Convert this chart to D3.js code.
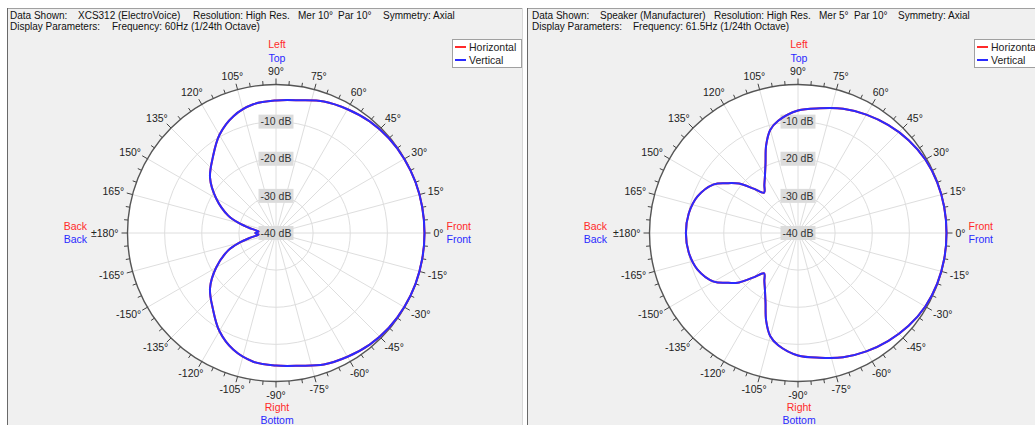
<!DOCTYPE html>
<html>
<head>
<meta charset="utf-8">
<script src="https://cdn.jsdelivr.net/npm/d3@7"></script>
<style>
body { margin: 0; background: #fff; }
svg { display: block; font-family: "Liberation Sans", Arial, sans-serif; }
</style>
</head>
<body>
<svg id="chart" width="1035" height="425"></svg>
<script>
// angles in degrees, 0 = front, +90 = top/left; levels in dB (0 = outer ring)
var angles1 = [-180, -175, -170, -165, -160, -150, -140, -130, -120, -110, -100, -90, -80, -70, -60, -50, -40, -30, -20, -10,
	0, 10, 20, 30, 40, 50, 60, 70, 80, 90, 100, 110, 120, 130, 140, 150, 160, 165, 170, 175];
var ver1 = [-34.4, -35.3, -33.2, -29.7, -26.3, -21.4, -16.8, -13.5, -9.5, -6.5, -4.8, -4.3, -3.7, -2.3, -1.5, -0.75, -0.3, -0.1, 0, 0,
	0, 0, 0, -0.1, -0.3, -0.75, -1.5, -2.3, -3.7, -4.3, -4.8, -6.5, -9.5, -13.5, -16.8, -21.4, -26.3, -29.7, -33.2, -35.3];
var hor1 = ver1.slice(); // axial symmetry: horizontal sits under vertical

var angles2 = [-180, -170, -160, -150, -145, -140, -135, -130, -125, -120, -115, -110, -105, -100, -90, -80, -70, -60, -50, -40, -30, -20, -10,
	0, 10, 20, 30, 40, 50, 60, 70, 80, 90, 100, 105, 110, 115, 120, 125, 130, 135, 140, 145, 150, 160, 170];
var ver2 = [-9.8, -10.1, -11.2, -13.8, -16.6, -19.3, -23.1, -25.8, -24.2, -22.2, -19.3, -14.9, -11.2, -9.3, -7.0, -5.9, -4.4, -3.2, -2.1, -1.1, -0.4, -0.1, 0,
	0, 0, -0.1, -0.4, -1.1, -2.1, -3.2, -4.4, -5.9, -7.0, -9.3, -11.2, -14.9, -19.3, -22.2, -24.2, -25.8, -23.1, -19.3, -16.6, -13.8, -11.2, -10.1];
var hor2 = ver2.slice();

var angleTicks = [180, 165, 150, 135, 120, 105, 90, 75, 60, 45, 30, 15, 0, -15, -30, -45, -60, -75, -90, -105, -120, -135, -150, -165];
var dbTicks = [-10, -20, -30, -40];
var seriesNames = ["Horizontal", "Vertical"];

var head1 = [["Data Shown:", "XCS312  (ElectroVoice)", "Resolution: High Res.", "Mer 10°", "Par 10°", "Symmetry: Axial"],
	["Display Parameters:", "Frequency: 60Hz (1/24th Octave)"]];
var head2 = [["Data Shown:", "Speaker (Manufacturer)", "Resolution: High Res.", "Mer 5°", "Par 10°", "Symmetry: Axial"],
	["Display Parameters:", "Frequency: 61.5Hz (1/24th Octave)"]];

var RED = "#ff2a2a", BLUE = "#2a2aff";
var R = 148.5, cy = 233;
var svg = d3.select("#chart");
var rScale = d3.scaleLinear().domain([-40, 0]).range([0, R]);
function rad(a) { return a * Math.PI / 180; }

var panels = [
	{x0: 7, x1: 523, cx: 276, head: head1, headX: [[10, 78, 193, 298, 338, 383], [10, 112]],
		angles: angles1, hor: hor1, ver: ver1, legX: 452},
	{x0: 527, x1: 1045, cx: 798, head: head2, headX: [[532, 600, 714, 819, 854, 898], [532, 633]],
		angles: angles2, hor: hor2, ver: ver2, legX: 974}
];

panels.forEach(function (p) {
	var g = svg.append("g");
	g.append("rect").attr("x", p.x0).attr("y", 8).attr("width", p.x1 - p.x0).attr("height", 430).attr("fill", "#f0f0f0");
	g.append("line").attr("x1", p.x0).attr("x2", p.x1).attr("y1", 8.5).attr("y2", 8.5).attr("stroke", "#a0a0a0");
	g.append("line").attr("x1", p.x0 + 0.5).attr("x2", p.x0 + 0.5).attr("y1", 8).attr("y2", 430).attr("stroke", "#696969");
	g.append("line").attr("x1", p.x1 - 0.5).attr("x2", p.x1 - 0.5).attr("y1", 8).attr("y2", 430).attr("stroke", "#d8d8d8");

	// header text
	p.head.forEach(function (line, li) {
		line.forEach(function (s, si) {
			g.append("text").attr("x", p.headX[li][si]).attr("y", li == 0 ? 19 : 30)
			.attr("font-size", "10px").attr("fill", "#111").text(s);
		});
	});

	var c = g.append("g").attr("transform", "translate(" + p.cx + "," + cy + ")");
	c.append("circle").attr("r", R).attr("fill", "#fff");

	// spokes every 15 deg
	c.selectAll(".spoke").data(angleTicks).enter().append("line")
	.attr("x1", 0).attr("y1", 0)
	.attr("x2", function (a) { return R * Math.cos(rad(a)); })
	.attr("y2", function (a) { return -R * Math.sin(rad(a)); })
	.attr("stroke", "#dedede");

	// dB rings
	c.selectAll(".ring").data(dbTicks.filter(function (d) { return rScale(d) > 0; })).enter().append("circle")
	.attr("r", function (d) { return rScale(d); })
	.attr("fill", "none").attr("stroke", "#dedede");

	// dB labels with grey boxes
	dbTicks.forEach(function (d) {
		var lg = c.append("g").attr("transform", "translate(0," + (-rScale(d)) + ")");
		var box = lg.append("rect").attr("fill", "#dcdcdc");
		var t = lg.append("text").attr("text-anchor", "middle").attr("dy", "0.35em")
		.attr("font-size", "10.5px").attr("fill", "#333").text(d + " dB");
		var w = t.node().getComputedTextLength();
		box.attr("x", -w / 2 - 2).attr("y", -7).attr("width", w + 4).attr("height", 14);
	});

	// outer circle and ticks
	c.append("circle").attr("r", R).attr("fill", "none").attr("stroke", "#555").attr("stroke-width", 1.4);
	c.selectAll(".tick").data(d3.range(-175, 185, 5)).enter().append("line")
	.attr("x1", function (a) { return R * Math.cos(rad(a)); })
	.attr("y1", function (a) { return -R * Math.sin(rad(a)); })
	.attr("x2", function (a) { var l = a % 15 == 0 ? 6 : 4; return (R + l) * Math.cos(rad(a)); })
	.attr("y2", function (a) { var l = a % 15 == 0 ? 6 : 4; return -(R + l) * Math.sin(rad(a)); })
	.attr("stroke", "#444").attr("stroke-width", 1);

	// angle labels
	angleTicks.forEach(function (a) {
		var px = (R + 9) * Math.cos(rad(a)), py = -(R + 9) * Math.sin(rad(a));
		var t = c.append("text").attr("font-size", "10.5px").attr("fill", "#222")
		.attr("text-anchor", "middle").attr("dy", "0.35em")
		.text(a == 180 ? "\u00b1180\u00b0" : a + "\u00b0");
		var w = t.node().getComputedTextLength();
		t.attr("x", px + Math.cos(rad(a)) * w / 2).attr("y", py - Math.sin(rad(a)) * 4.5);
	});

	// curves
	var line = d3.lineRadial()
	.angle(function (d) { return rad(90 - d[0]); })
	.radius(function (d) { return rScale(d[1]); })
	.curve(d3.curveCatmullRomClosed.alpha(0.5));
	[[p.hor, RED], [p.ver, BLUE]].forEach(function (s) {
		c.append("path").datum(p.angles.map(function (a, i) { return [a, s[0][i]]; }))
		.attr("d", line).attr("fill", "none").attr("stroke", s[1]).attr("stroke-width", 2);
	});

	// direction names
	function label(x, y, txt, col, anchor) {
		c.append("text").attr("x", x).attr("y", y).attr("text-anchor", anchor || "middle")
		.attr("font-size", "10.5px").attr("fill", col).text(txt);
	}
	label(1, -185, "Left", RED);
	label(1, -171, "Top", BLUE);
	label(1, 178, "Right", RED);
	label(1, 191, "Bottom", BLUE);
	label(-p.cx + p.x0 + 80, -3, "Back", RED, "end");
	label(-p.cx + p.x0 + 80, 10, "Back", BLUE, "end");
	label(R + 22, -3, "Front", RED, "start");
	label(R + 22, 10, "Front", BLUE, "start");

	// legend
	var leg = g.append("g").attr("transform", "translate(" + p.legX + ",39)");
	leg.append("rect").attr("x", 0.5).attr("y", 0.5).attr("width", 69).attr("height", 28)
	.attr("fill", "#fff").attr("stroke", "#a0a0a0");
	seriesNames.forEach(function (n, i) {
		var yy = 8 + i * 13;
		leg.append("line").attr("x1", 3).attr("x2", 14).attr("y1", yy).attr("y2", yy)
		.attr("stroke", i == 0 ? RED : BLUE).attr("stroke-width", 2);
		leg.append("text").attr("x", 17).attr("y", yy + 4).attr("font-size", "10.5px").attr("fill", "#222").text(n);
	});
});
</script>
</body>
</html>
